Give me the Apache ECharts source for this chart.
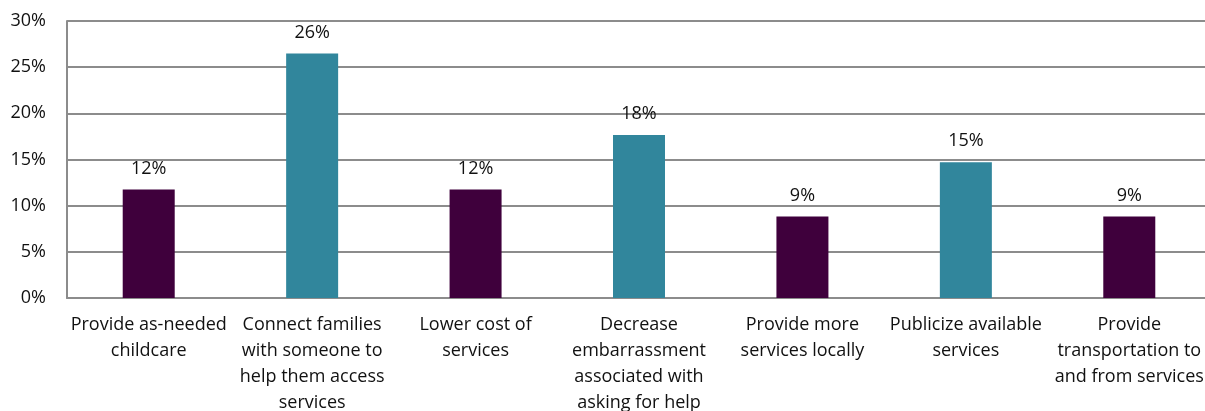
<!DOCTYPE html>
<html>
<head>
<meta charset="utf-8">
<script src="https://cdn.jsdelivr.net/npm/echarts@6/dist/echarts.min.js"></script>
<style>
  html, body { margin: 0; padding: 0; background: #fff; }
  #chart { width: 1205px; height: 411px; }
</style>
</head>
<body>
<div id="chart"></div>
<script>
// Suggested improvements and share of respondents choosing each (%)
const categories = [
  'Provide as-needed\nchildcare',
  'Connect families\nwith someone to\nhelp them access\nservices',
  'Lower cost of\nservices',
  'Decrease\nembarrassment\nassociated with\nasking for help',
  'Provide more\nservices locally',
  'Publicize available\nservices',
  'Provide\ntransportation to\nand from services'
];
const shares = [11.76, 26.47, 11.76, 17.65, 8.82, 14.71, 8.82];
const yTicks = [0, 5, 10, 15, 20, 25, 30];

const PURPLE = '#3f003c';
const TEAL = '#31869c';
const FONT = "'Open Sans', 'Noto Sans', sans-serif";
const FS = 18;

const chart = echarts.init(document.getElementById('chart'));
chart.setOption({
  animation: false,
  grid: {
    left: 67, right: -6, top: 21, bottom: 113,
    containLabel: false,
    outerBoundsMode: 'none'
  },
  xAxis: {
    type: 'category',
    data: categories,
    axisLine: { show: true, lineStyle: { color: '#8c8c8c', width: 2 } },
    axisTick: { show: false },
    axisLabel: {
      interval: 0,
      margin: 14,
      color: '#111',
      fontFamily: FONT,
      fontSize: FS,
      lineHeight: 26,
      align: 'center',
      hideOverlap: false
    }
  },
  yAxis: {
    type: 'value',
    min: yTicks[0],
    max: yTicks[yTicks.length - 1],
    interval: 5,
    axisLine: { show: true, lineStyle: { color: '#8c8c8c', width: 2 } },
    axisTick: { show: false },
    splitLine: { show: true, lineStyle: { color: '#8c8c8c', width: 2 } },
    axisLabel: {
      margin: 21,
      color: '#111',
      fontFamily: FONT,
      fontSize: FS,
      formatter: v => v + '%'
    }
  },
  series: [{
    type: 'bar',
    data: shares.map((v, i) => ({
      value: v,
      itemStyle: { color: i % 2 === 0 ? PURPLE : TEAL }
    })),
    barWidth: 52,
    label: {
      show: true,
      position: 'top',
      distance: 12,
      color: '#111',
      fontFamily: FONT,
      fontSize: FS,
      formatter: p => Math.round(p.value) + '%'
    }
  }]
});
</script>
</body>
</html>
